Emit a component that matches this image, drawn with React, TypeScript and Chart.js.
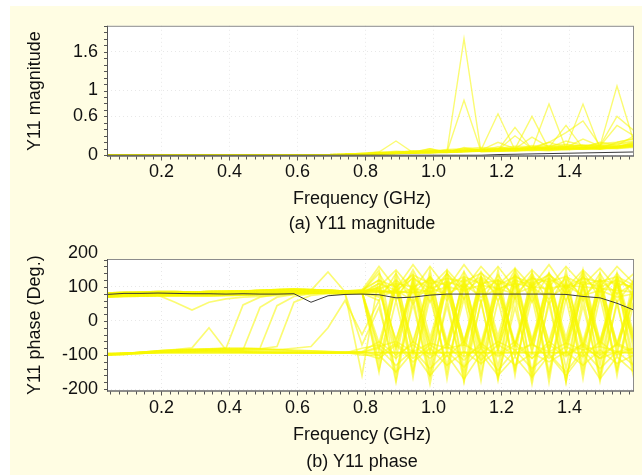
import React, { useEffect, useRef } from "react";
import { Chart, registerables } from "chart.js";

Chart.register(...registerables);

const FONT = "'Liberation Sans', Arial, Helvetica, sans-serif";

// ---------- shared x grid (GHz) ----------
const freq = [0.04, 0.09, 0.14, 0.19, 0.24, 0.29, 0.34, 0.39, 0.44, 0.49, 0.54, 0.59, 0.64, 0.69, 0.74, 0.79,
  0.84, 0.89, 0.94, 0.99, 1.04, 1.09, 1.14, 1.19, 1.24, 1.29, 1.34, 1.39, 1.44, 1.49, 1.54, 1.59];
const xTickValues = [0.2, 0.4, 0.6, 0.8, 1.0, 1.2, 1.4];
const magTickValues = [0, 0.6, 1, 1.6];
const phaseTickValues = [-200, -100, 0, 100, 200];

// ---------- (a) magnitude ----------
const magPre = [0, 0, 0, 0, 0, 0, 0, 0, 0, 0, 0, 0, 0.005, 0.008, 0.01];
const magBlack = [0, 0, 0, 0, 0, 0, 0, 0, 0, 0, 0, 0, 0, 0, 0, 0, 0, 0, 0, 0, 0, 0, 0,
  0.01, 0.015, 0.02, 0.025, 0.03, 0.035, 0.04, 0.045, 0.05];
const magT1 = [0.02, 0.03, 0.04, 0.05, 0.05, 0.06, 1.8, 0.05, 0.06, 0.08, 0.07, 0.09, 0.08, 0.1, 0.09, 0.11, 0.12];
const magT2 = [0.02, 0.02, 0.03, 0.04, 0.05, 0.05, 0.85, 0.06, 0.07, 0.06, 0.08, 0.07, 0.1, 0.09, 0.1, 0.12, 0.14];
const magT3 = [0.03, 0.05, 0.22, 0.04, 0.06, 0.05, 0.06, 0.07, 0.08, 0.07, 0.09, 0.08, 0.09, 0.1, 0.11, 0.1, 0.13];
const magT4 = [0.02, 0.03, 0.04, 0.04, 0.1, 0.05, 0.06, 0.08, 0.64, 0.08, 0.1, 0.09, 0.1, 0.12, 0.1, 0.13, 0.15];
const magT5 = [0.01, 0.02, 0.03, 0.04, 0.05, 0.06, 0.07, 0.06, 0.08, 0.43, 0.09, 0.1, 0.11, 0.1, 0.12, 0.11, 0.14];
const magT6 = [0.02, 0.03, 0.04, 0.05, 0.04, 0.06, 0.05, 0.07, 0.08, 0.1, 0.6, 0.09, 0.12, 0.1, 0.13, 0.12, 0.16];
const magT7 = [0.01, 0.02, 0.03, 0.03, 0.04, 0.05, 0.06, 0.07, 0.06, 0.08, 0.09, 0.79, 0.1, 0.12, 0.11, 0.13, 0.15];
const magT8 = [0.02, 0.02, 0.03, 0.04, 0.05, 0.05, 0.06, 0.06, 0.07, 0.08, 0.1, 0.12, 0.46, 0.11, 0.12, 0.14, 0.17];
const magT9 = [0.01, 0.02, 0.03, 0.04, 0.04, 0.05, 0.06, 0.07, 0.08, 0.09, 0.1, 0.11, 0.12, 0.79, 0.1, 0.13, 0.16];
const magT10 = [0.02, 0.03, 0.04, 0.05, 0.06, 0.06, 0.07, 0.08, 0.09, 0.1, 0.12, 0.2, 0.35, 0.53, 0.15, 0.14, 0.18];
const magT11 = [0.01, 0.02, 0.03, 0.03, 0.04, 0.05, 0.06, 0.07, 0.08, 0.09, 0.1, 0.11, 0.1, 0.12, 0.14, 1.07, 0.2];
const magT12 = [0.02, 0.03, 0.04, 0.04, 0.05, 0.06, 0.07, 0.08, 0.09, 0.1, 0.11, 0.12, 0.13, 0.14, 0.15, 0.6, 0.38];
const magT13 = [0.01, 0.02, 0.03, 0.04, 0.05, 0.04, 0.06, 0.07, 0.08, 0.3, 0.1, 0.2, 0.12, 0.25, 0.14, 0.46, 0.3];
const magT14 = [0.01, 0.03, 0.05, 0.04, 0.06, 0.07, 0.08, 0.09, 0.1, 0.12, 0.11, 0.13, 0.14, 0.15, 0.16, 0.18, 0.22];
const magT15 = [0.0, 0.01, 0.02, 0.03, 0.03, 0.04, 0.05, 0.06, 0.06, 0.07, 0.08, 0.08, 0.09, 0.1, 0.1, 0.12, 0.14];
const magT16 = [0.01, 0.02, 0.03, 0.05, 0.1, 0.04, 0.12, 0.08, 0.2, 0.1, 0.28, 0.12, 0.22, 0.15, 0.1, 0.2, 0.25];
const magT17 = [0.02, 0.04, 0.06, 0.05, 0.07, 0.06, 0.09, 0.08, 0.1, 0.09, 0.12, 0.1, 0.13, 0.12, 0.15, 0.14, 0.18];
const magT18 = [0.01, 0.03, 0.03, 0.06, 0.05, 0.08, 0.07, 0.1, 0.09, 0.11, 0.1, 0.14, 0.12, 0.16, 0.13, 0.17, 0.2];
const magT19 = [0.02, 0.05, 0.04, 0.07, 0.06, 0.09, 0.1, 0.12, 0.11, 0.14, 0.13, 0.15, 0.17, 0.14, 0.18, 0.2, 0.26];
const magT20 = [0.01, 0.02, 0.05, 0.03, 0.08, 0.05, 0.11, 0.07, 0.13, 0.09, 0.15, 0.1, 0.16, 0.12, 0.2, 0.15, 0.3];
const magT21 = [0.03, 0.04, 0.05, 0.06, 0.05, 0.07, 0.06, 0.09, 0.08, 0.1, 0.09, 0.11, 0.1, 0.12, 0.11, 0.13, 0.16];
const magT22 = [0.01, 0.04, 0.02, 0.05, 0.04, 0.06, 0.08, 0.06, 0.1, 0.08, 0.12, 0.09, 0.11, 0.1, 0.14, 0.12, 0.2];
const magTails = [magT1, magT2, magT3, magT4, magT5, magT6, magT7, magT8, magT9, magT10, magT11, magT12,
  magT13, magT14, magT15, magT16, magT17, magT18, magT19, magT20, magT21, magT22];

// ---------- (b) phase ----------
const phaseBlack = [78, 81, 81, 82, 81, 80, 80, 79, 80, 79, 79, 80, 55, 74, 78, 79, 77, 68, 70, 76,
  79, 79, 79, 79, 79, 79, 79, 78, 72, 68, 52, 32];
// low-frequency parts (0.04 .. 0.74 GHz)
const upA = [78, 80, 81, 82, 81, 80, 81, 82, 82, 83, 85, 86, 84, 82, 80];
const upB = [72, 74, 75, 76, 76, 76, 77, 78, 78, 79, 80, 82, 84, 82, 80];
const upC = [82, 84, 85, 86, 86, 85, 86, 87, 88, 89, 90, 91, 90, 88, 86];
const upD = [75, 77, 78, 78, 78, 78, 79, 80, 80, 81, 83, 86, 88, 90, 88];
const upE = [70, 72, 73, 74, 74, 74, 74, 75, 76, 77, 79, 82, 84, 86, 86];
const upF = [80, 82, 83, 83, 84, 85, 86, 87, 88, 90, 92, 94, 92, 90, 88];
const upDip = [78, 80, 81, 76, 55, 32, 55, 65, 70, 72, 75, 78, 80, 82, 82];
const upSpike = [76, 78, 80, 81, 81, 82, 83, 83, 84, 85, 87, 89, 90, 144, 86];
const lowA = [-96, -95, -94, -93, -93, -93, -93, -93, -93, -94, -94, -94, -94, -94, -94];
const lowB = [-100, -98, -95, -92, -90, -89, -88, -89, -90, -91, -92, -92, -93, -93, -93];
const lowC = [-98, -96, -92, -88, -85, -83, -82, -80, -80, -82, -84, -86, -88, -90, -91];
const tr1 = [-97, -95, -92, -88, -84, -79, -20, -85, -86, -88, -89, -90, -91, -92, -92];
const tr2 = [-99, -96, -93, -90, -87, -85, -83, -80, 47, 70, 78, 82, 85, 84, 82];
const tr3 = [-98, -96, -93, -90, -88, -86, -85, -84, -85, 40, 70, 78, 82, 84, 83];
const tr4 = [-97, -95, -92, -89, -87, -85, -84, -83, -82, -80, 45, 72, 80, 84, 82];
const tr5 = [-98, -95, -92, -90, -88, -86, -85, -84, -83, -82, -75, 55, 75, 80, 82];
const tr6 = [-99, -96, -93, -91, -89, -88, -87, -86, -86, -85, -85, -80, -75, -20, 60];
// high-frequency parts (0.79 .. 1.59 GHz)
const hi1 = [88, 95, 110, 100, 120, 105, 130, 110, 120, 100, 125, 115, 130, 105, 120, 110, 100];
const hi2 = [85, 90, 80, 95, 85, 100, 90, 105, 95, 110, 100, 95, 105, 100, 95, 90, 85];
const hi3 = [90, 160, 95, 165, 100, 150, 95, 160, 105, 155, 100, 165, 95, 150, 100, 160, 110];
const hi4 = [86, 100, 150, 90, 160, 95, 165, 100, 160, 95, 150, 100, 160, 105, 155, 95, 140];
const hi5 = [84, 70, 90, 60, 100, 75, 110, 70, 95, 80, 100, 65, 105, 75, 90, 70, 80];
const hi6 = [92, 120, 70, 130, 80, 140, 85, 125, 75, 135, 90, 140, 80, 130, 85, 125, 90];
const hi7 = [84, 110, 90, 125, 95, 115, 100, 130, 90, 120, 105, 125, 95, 115, 100, 120, 95];
const hi8 = [88, 120, 100, 135, 110, 125, 115, 140, 105, 130, 110, 135, 100, 125, 115, 130, 105];
const hi9 = [82, 75, 120, 80, 130, 70, 125, 85, 120, 75, 130, 80, 125, 70, 120, 80, 110];
const hi10 = [82, 60, 140, 50, 130, 60, 145, 55, 135, 65, 140, 50, 135, 60, 140, 55, 120];
const hi11 = [86, 140, 60, 150, 55, 140, 65, 145, 60, 150, 55, 140, 60, 145, 65, 140, 70];
const zz1 = [85, -150, 120, -165, 130, -170, 110, -175, 125, -160, 130, -180, 115, -170, 120, -160, 100];
const zz2 = [-160, 130, -170, 110, -160, 140, -175, 120, -165, 130, -170, 120, -180, 130, -165, 120, -150];
const zz3 = [88, -120, 100, -140, 90, -150, 105, -130, 95, -145, 100, -150, 95, -135, 100, -140, 90];
const zz4 = [80, 100, -110, 120, -130, 110, -140, 100, -135, 120, -150, 110, -140, 105, -130, 115, -120];
const zz5 = [86, -90, 140, -100, 150, -95, 140, -110, 150, -100, 145, -95, 150, -105, 140, -100, 130];
const zz6 = [84, 150, -80, 130, -90, 145, -100, 135, -85, 150, -95, 140, -90, 150, -100, 140, -90];
const zz7 = [90, 88, 86, 84, 90, -80, 75, -75, 85, -70, 80, -85, 90, -75, 85, -70, 60];
const zz8 = [82, 84, 83, 85, 80, 80, -70, 90, -80, 75, -65, 85, -75, 80, -70, 85, -60];
const zz9 = [85, -140, 60, -150, 70, -130, 65, -155, 60, -140, 70, -160, 65, -150, 70, -145, 55];
const zz10 = [-40, 60, -180, 70, -185, 65, -180, 60, -175, 70, -185, 65, -180, 70, -178, 60, -170];
const zz11 = [86, 88, 85, 140, -50, 120, -60, 130, -45, 135, -55, 125, -50, 140, -60, 130, -40];
const zz12 = [-70, 40, -150, 50, -160, 45, -155, 55, -165, 40, -160, 50, -170, 45, -160, 50, -150];
const zz13 = [80, 110, -60, 120, -70, 110, -65, 125, -60, 115, -70, 120, -65, 110, -60, 115, -50];
const zz14 = [85, -65, 115, -70, 125, -60, 120, -75, 110, -65, 125, -70, 115, -60, 120, -70, 100];
const zz15 = [84, -80, 100, -90, 95, -70, 105, -85, 100, -75, 110, -90, 95, -80, 105, -85, 90];
const zz16 = [86, 95, -85, 105, -95, 100, -80, 110, -90, 95, -85, 105, -95, 100, -80, 110, -70];
const zz17 = [83, 85, 90, -60, 110, -70, 120, -65, 115, -75, 105, -60, 120, -70, 110, -65, 95];
const zz18 = [87, 90, -55, 100, -65, 115, -60, 105, -70, 120, -60, 110, -65, 100, -70, 115, -55];
const lo1 = [-95, -110, -70, -120, -80, -130, -90, -125, -85, -130, -95, -120, -90, -130, -85, -125, -100];
const lo2 = [-92, -80, -130, -85, -140, -90, -135, -80, -145, -85, -140, -95, -150, -85, -140, -90, -130];
const lo3 = [-90, -60, -100, -70, -110, -65, -105, -75, -100, -60, -110, -70, -105, -65, -100, -70, -95];
const lo4 = [-100, -100, -150, -90, -160, -100, -170, -95, -160, -105, -165, -100, -160, -95, -170, -105, -150];
const lo5 = [-93, -93, -92, -93, -94, -93, -92, -93, -94, -93, -92, -93, -93, -70, -110, -90, -95];
const lo6 = [-80, -70, -110, -60, -100, -75, -115, -65, -105, -70, -110, -60, -100, -75, -110, -65, -90];
const lo7 = [-90, -100, -65, -110, -70, -105, -60, -115, -70, -100, -65, -110, -75, -105, -60, -100, -80];
const lo8 = [-92, -75, -60, -90, -65, -80, -70, -95, -60, -85, -70, -90, -65, -85, -75, -90, -80];
const loFlat = [-93, -93, -93, -93, -93, -93, -93, -93, -93, -93, -93, -93, -93, -93, -93, -93, -93];

const phaseSeries = [
  [...upA, ...hi1], [...upB, ...hi2], [...upC, ...hi3], [...upD, ...hi4], [...upE, ...hi5],
  [...upF, ...hi6], [...tr3, ...hi7], [...upA, ...hi8], [...upB, ...hi9], [...upC, ...hi10],
  [...upD, ...hi11],
  [...upA, ...zz1], [...tr2, ...zz2], [...upC, ...zz3],
  [...upB, ...zz4], [...upD, ...zz5], [...upE, ...zz6], [...upF, ...zz7], [...upDip, ...zz8],
  [...upSpike, ...zz9], [...tr6, ...zz10], [...tr4, ...zz11], [...tr5, ...zz12],
  [...upE, ...zz13], [...upF, ...zz14], [...upA, ...zz15], [...upB, ...zz16], [...upC, ...zz17],
  [...upD, ...zz18],
  [...lowA, ...lo1], [...lowB, ...lo2], [...lowC, ...lo3], [...tr1, ...lo4], [...lowB, ...lo5],
  [...lowA, ...lo6], [...lowC, ...lo7], [...lowB, ...lo8],
  [...lowA, ...loFlat],
];
const magSeries = magTails.map((t) => [...magPre, ...t]);

const YELLOW = "rgba(248,248,0,0.55)";

function toPoints(vals: number[]) {
  return freq.map((f, i) => ({ x: f, y: vals[i] }));
}

const framePlugin = {
  id: "frame",
  beforeDraw(chart: any) {
    const { ctx, chartArea: a } = chart;
    ctx.save();
    ctx.fillStyle = "#ffffff";
    ctx.fillRect(a.left, a.top, a.right - a.left, a.bottom - a.top);
    ctx.restore();
  },
  afterDraw(chart: any, _args: any, opts: any) {
    const { ctx, chartArea: a } = chart;
    const xs = chart.scales.x;
    const ys = chart.scales.y;
    ctx.save();
    ctx.lineWidth = 1;
    ctx.strokeStyle = "#8c8c8c";
    ctx.strokeRect(a.left + 0.5, a.top + 0.5, a.right - a.left - 1, a.bottom - a.top - 1);
    ctx.strokeStyle = "#555555";
    ctx.beginPath();
    ctx.moveTo(a.left + 0.5, a.top);
    ctx.lineTo(a.left + 0.5, a.bottom);
    ctx.moveTo(a.left, a.bottom - 0.5);
    ctx.lineTo(a.right, a.bottom - 0.5);
    for (let k = 0; k < 200; k++) {
      const v = opts.xStart + k * opts.xStep;
      if (v > xs.max + 1e-9) break;
      const px = Math.round(xs.getPixelForValue(v)) + 0.5;
      ctx.moveTo(px, a.bottom);
      ctx.lineTo(px, a.bottom + (k % 8 === 6 ? 4 : 3));
    }
    for (let k = 0; k < 200; k++) {
      const v = opts.yStart + k * opts.yStep;
      if (v > ys.max + 1e-9) break;
      const py = Math.round(ys.getPixelForValue(v)) + 0.5;
      ctx.moveTo(a.left, py);
      ctx.lineTo(a.left - 3, py);
    }
    ctx.stroke();
    ctx.restore();
  },
};

function makeChart(canvas: HTMLCanvasElement, p: any) {
  const datasets: any[] = [
    { data: toPoints(p.black), borderColor: "#3a3a3a", borderWidth: 1 },
    ...p.series.map((s: number[]) => ({ data: toPoints(s), borderColor: YELLOW, borderWidth: p.lineW })),
  ];
  return new Chart(canvas, {
    type: "line",
    data: { datasets },
    plugins: [framePlugin],
    options: {
      animation: false,
      responsive: false,
      devicePixelRatio: 1,
      parsing: false,
      elements: { point: { radius: 0 }, line: { tension: 0 } },
      layout: { padding: { left: 0, right: 8, top: p.padTop, bottom: p.padBottom } },
      plugins: {
        legend: { display: false },
        tooltip: { enabled: false },
        frame: { xStart: 0.05, xStep: 0.025, yStart: p.yMinorStart, yStep: p.yMinorStep },
      } as any,
      scales: {
        x: {
          type: "linear",
          min: 0.04,
          max: 1.59,
          afterFit: (s: any) => { s.height = 40; },
          afterBuildTicks: (s: any) => { s.ticks = xTickValues.map((v) => ({ value: v })); },
          border: { display: false, dash: [1, 3] },
          grid: { drawTicks: false, color: "rgba(0,0,0,0.09)" },
          ticks: {
            padding: p.xTickPad,
            color: "#111",
            font: { family: FONT, size: 18 },
            maxRotation: 0,
            autoSkip: false,
            callback: (v: any) => Number(v).toFixed(1),
          },
        },
        y: {
          type: "linear",
          min: p.yMin,
          max: p.yMax,
          afterFit: (s: any) => { s.width = 97; },
          afterBuildTicks: (s: any) => { s.ticks = p.yTicks.map((v: number) => ({ value: v })); },
          border: { display: false, dash: [1, 3] },
          grid: {
            drawTicks: false,
            color: (c: any) => (c.tick && (c.tick.value > p.yMax || c.tick.value < p.yMin) ? "rgba(0,0,0,0)" : "rgba(0,0,0,0.09)"),
          },
          ticks: {
            padding: 9,
            color: "#111",
            font: { family: FONT, size: 18 },
            autoSkip: false,
            callback: (v: any) => String(v),
          },
          title: {
            display: true,
            text: p.yTitle,
            color: "#111",
            font: { family: FONT, size: 18 },
            padding: { top: 14, bottom: 0 },
          },
        },
      },
    } as any,
  });
}

const textStyle: React.CSSProperties = {
  position: "absolute",
  left: 202,
  width: 300,
  textAlign: "center",
  fontFamily: FONT,
  fontSize: 18,
  lineHeight: "22px",
  color: "#111",
  whiteSpace: "nowrap",
};

export default function App() {
  const topRef = useRef<HTMLCanvasElement>(null);
  const botRef = useRef<HTMLCanvasElement>(null);

  useEffect(() => {
    const c1 = makeChart(topRef.current!, {
      black: magBlack,
      series: magSeries,
      lineW: 1.4,
      yMin: -0.02,
      yMax: 2.0,
      yTicks: magTickValues,
      yTitle: "Y11 magnitude",
      padTop: 19,
      padBottom: 39.5,
      xTickPad: 5,
      yMinorStart: 0,
      yMinorStep: 0.1,
    });
    const c2 = makeChart(botRef.current!, {
      black: phaseBlack,
      series: phaseSeries,
      lineW: 1.7,
      yMin: -207,
      yMax: 182,
      yTicks: phaseTickValues,
      yTitle: "Y11 phase (Deg.)",
      padTop: 23,
      padBottom: 43.5,
      xTickPad: 6,
      yMinorStart: -200,
      yMinorStep: 20,
    });
    return () => {
      c1.destroy();
      c2.destroy();
    };
  }, []);

  return (
    <div
      style={{
        position: "absolute",
        left: 10,
        top: 6,
        width: 632,
        height: 469,
        background: "#FFFDE3",
        overflow: "hidden",
      }}
    >
      <canvas ref={topRef} width={632} height={230} style={{ position: "absolute", left: 0, top: 0 }} />
      <canvas ref={botRef} width={632} height={239} style={{ position: "absolute", left: 0, top: 230 }} />
      <div style={{ ...textStyle, top: 181 }}>Frequency (GHz)</div>
      <div style={{ ...textStyle, top: 206 }}>(a) Y11 magnitude</div>
      <div style={{ ...textStyle, top: 417 }}>Frequency (GHz)</div>
      <div style={{ ...textStyle, top: 444 }}>(b) Y11 phase</div>
    </div>
  );
}
